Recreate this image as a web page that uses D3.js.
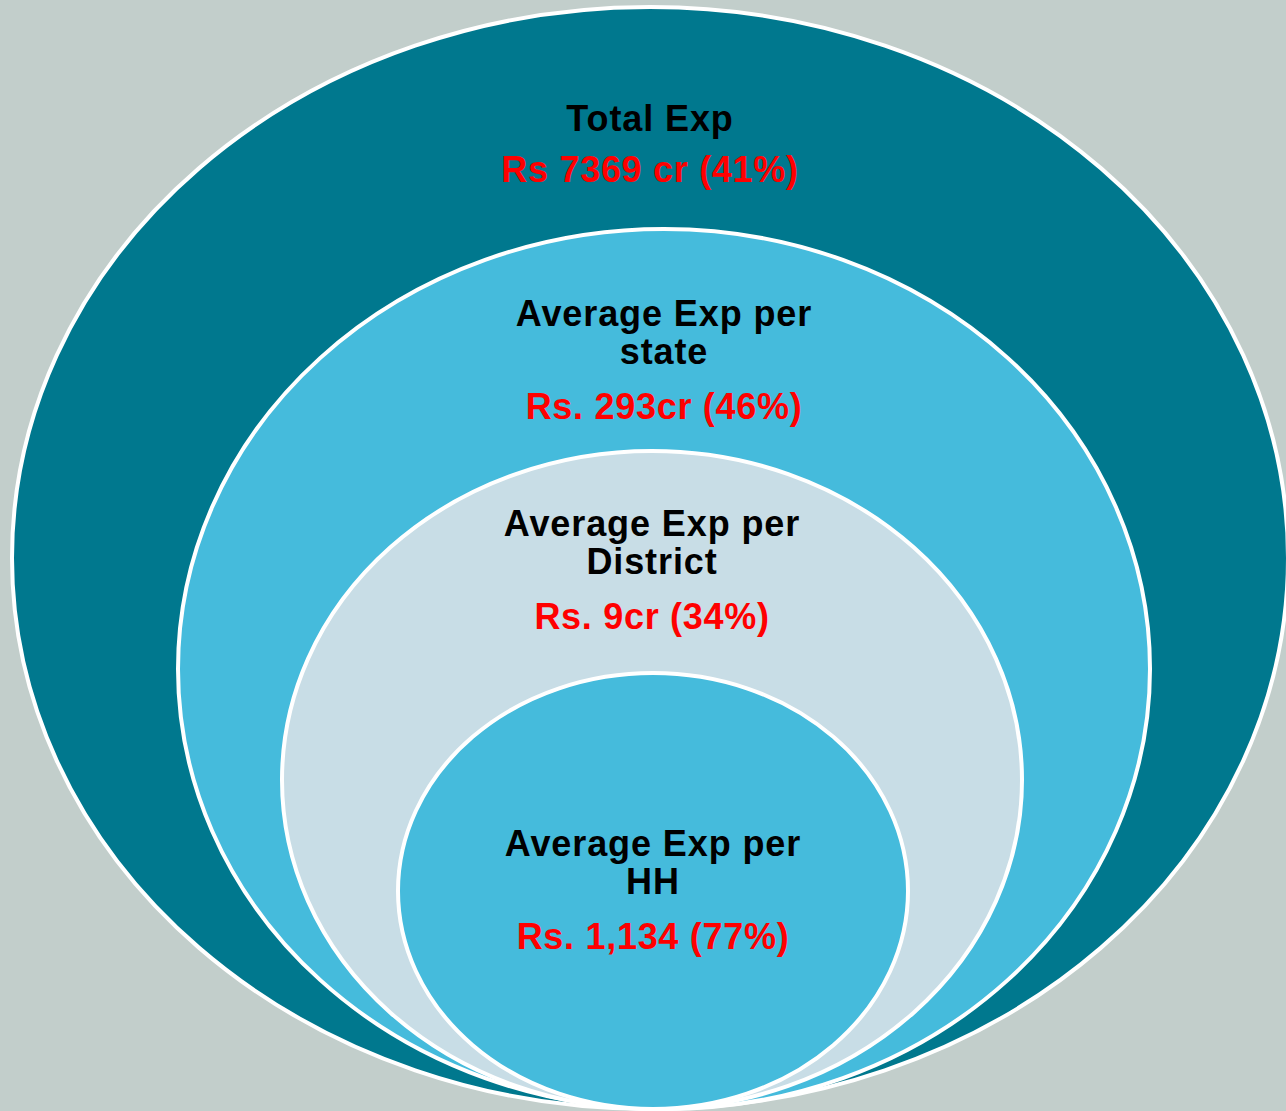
<!DOCTYPE html>
<html>
<head lang="en">
    <meta charset="UTF-8">
    <title>Expenditure levels</title>
    <script src="https://cdn.jsdelivr.net/npm/d3@7"></script>
    <style>
        body{margin:0;background:#c2cecb;}
        svg{display:block;}
        ellipse{stroke:#fff;stroke-width:4px;}
        text{font-family:"Liberation Sans",Arial,sans-serif;font-weight:bold;text-anchor:middle;}
        .name{fill:#000;font-size:36px;letter-spacing:0.9px;}
        .val{fill:#ff0000;font-size:36px;letter-spacing:0.7px;}
    </style>
</head>
<body>
<script>
    // data, outer level first
    var levels=["Total Exp","Average Exp per state","Average Exp per District","Average Exp per HH"];
    var nameLines=[["Total Exp"],["Average Exp per","state"],["Average Exp per","District"],["Average Exp per","HH"]];
    var amounts=["Rs 7369 cr","Rs. 293cr","Rs. 9cr","Rs. 1,134"];
    var shares=[41,46,34,77];

    // layout of the nested ovals (all resting on the same bottom point)
    var W=1286,H=1111,bottom=1109;
    var rx=[638,486,370,255],ry=[551,440,329,218],cxs=[650,664,652,653];
    var fills=["#00788e","#45bbdc","#c8dde6","#45bbdc"];
    var nameY=[131,326,536,856];   //baseline of first name line
    var valY=[182,419,629,949];
    var lineH=38;

    var svg=d3.select("body").append("svg")
            .attr("width",W)
            .attr("height",H);

    var g=svg.selectAll("g.level")
            .data(levels)
            .enter()
            .append("g")
            .attr("class","level");

    g.append("ellipse")
            .attr("cx",function(d,i){return cxs[i];})
            .attr("cy",function(d,i){return bottom-ry[i];})
            .attr("rx",function(d,i){return rx[i];})
            .attr("ry",function(d,i){return ry[i];})
            .style("fill",function(d,i){return fills[i];});

    // labels drawn after all ovals so nothing covers them
    var labels=svg.selectAll("g.label")
            .data(levels)
            .enter()
            .append("g")
            .attr("class","label")
            .attr("transform",function(d,i){return "translate("+cxs[i]+",0)";});

    labels.append("text")
            .attr("class","name")
            .attr("y",function(d,i){return nameY[i];})
            .each(function(d,i){
                var t=d3.select(this);
                nameLines[i].forEach(function(s,j){
                    t.append("tspan").attr("x",0).attr("dy",j==0?0:lineH).text(s);
                });
            });

    labels.append("text")
            .attr("class","val")
            .attr("y",function(d,i){return valY[i];})
            .text(function(d,i){return amounts[i]+" ("+shares[i]+"%)";});
</script>
</body>
</html>
